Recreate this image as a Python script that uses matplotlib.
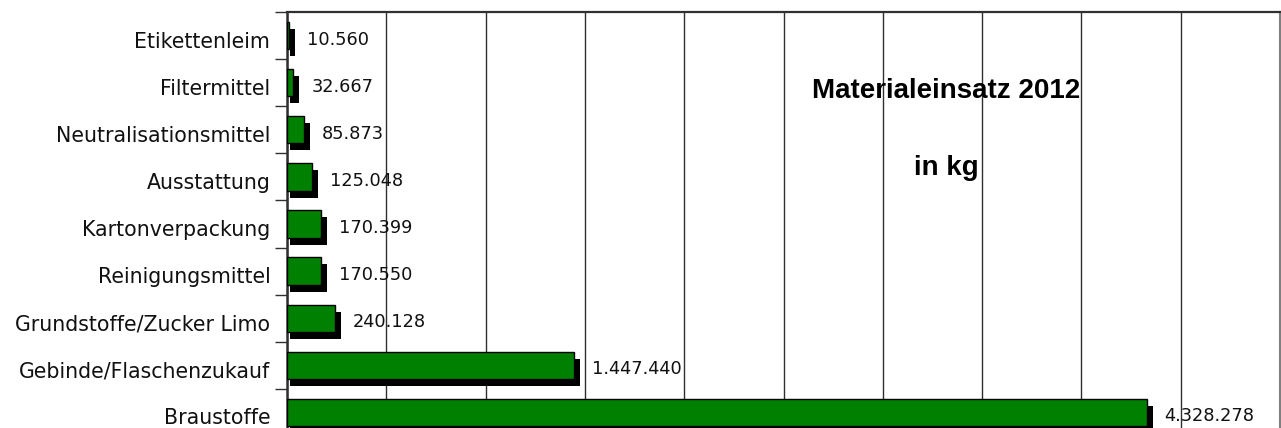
import matplotlib
matplotlib.use("Agg")
import matplotlib.pyplot as plt
from matplotlib.transforms import ScaledTranslation

categories = ["Etikettenleim", "Filtermittel", "Neutralisationsmittel", "Ausstattung",
              "Kartonverpackung", "Reinigungsmittel", "Grundstoffe/Zucker Limo",
              "Gebinde/Flaschenzukauf", "Braustoffe"]
values = [10560, 32667, 85873, 125048, 170399, 170550, 240128, 1447440, 4328278]
value_labels = ["10.560", "32.667", "85.873", "125.048", "170.399", "170.550",
                "240.128", "1.447.440", "4.328.278"]
x_max = 5000000
grid_step = 500000
title_lines = ["Materialeinsatz 2012", "in kg"]

W, H, DPI = 1281, 428, 100
fig = plt.figure(figsize=(W / DPI, H / DPI), dpi=DPI)
ax = fig.add_axes([287 / W, -8 / H, (1280 - 287) / W, (436 - 12) / H])

n = len(categories)
pos = list(range(n))
ax.set_xlim(0, x_max)
ax.set_ylim(n - 0.5, -0.5)

green = "#008000"
bar_h = 0.58
ax_w_px = (1280 - 287)
px_to_data = x_max / ax_w_px

# shadow bars
shadow_tr = ax.transData + ScaledTranslation(3 / DPI, -7 / DPI, fig.dpi_scale_trans)
ax.barh(pos, [v + 3 * px_to_data for v in values], height=bar_h, left=0,
        color="black", edgecolor="none", transform=shadow_tr, zorder=2, clip_on=False)
# main bars
ax.barh(pos, values, height=bar_h, color=green, edgecolor="black", linewidth=1.0, zorder=3)

for p, v, lab in zip(pos, values, value_labels):
    ax.annotate(lab, xy=(v, p), xytext=(18, -4), textcoords="offset pixels",
                ha="left", va="center", fontsize=12.8, family="DejaVu Sans", zorder=4,
                color="#111111", annotation_clip=False)

ax.set_xticks([i * grid_step for i in range(int(x_max / grid_step) + 1)])
ax.set_xticklabels([])
ax.tick_params(axis="x", length=0)
ax.grid(axis="x", color="#303030", linewidth=1.0, zorder=1)

ax.set_yticks(pos)
ax.set_yticklabels(categories, fontsize=14.8, family="DejaVu Sans", color="#111111")
ax.tick_params(axis="y", which="major", length=0, pad=12)
label_shift = ScaledTranslation(0, -4 / DPI, fig.dpi_scale_trans)
for t in ax.get_yticklabels():
    t.set_transform(t.get_transform() + label_shift)
ax.set_yticks([p - 0.5 for p in pos] + [n - 0.5], minor=True)
ax.tick_params(axis="y", which="minor", length=9, width=1.0, color="#303030")

ax.spines["left"].set_linewidth(1.8)
ax.spines["left"].set_color("#303030")
ax.spines["top"].set_linewidth(1.6)
ax.spines["top"].set_color("#303030")
ax.spines["right"].set_color("#808080")
ax.spines["right"].set_linewidth(1.5)
ax.spines["bottom"].set_visible(False)

ax.text((946 - 287) / ax_w_px, 1 - (91 - 12) / (436 - 12), title_lines[0],
        transform=ax.transAxes, ha="center", va="center", fontsize=20,
        fontweight="bold", family="Liberation Sans", zorder=5)
ax.text((946 - 287) / ax_w_px, 1 - (168 - 12) / (436 - 12), title_lines[1],
        transform=ax.transAxes, ha="center", va="center", fontsize=20,
        fontweight="bold", family="Liberation Sans", zorder=5)

fig.savefig("out.png", dpi=DPI)
